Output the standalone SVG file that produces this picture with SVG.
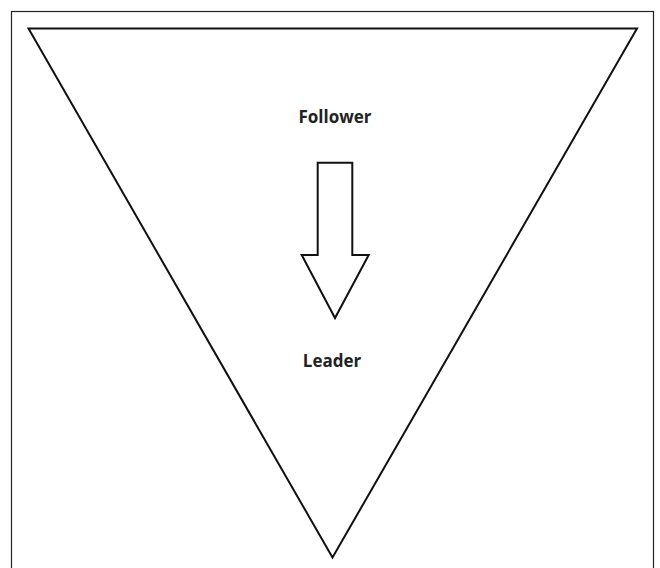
<svg xmlns="http://www.w3.org/2000/svg" width="660" height="568" viewBox="0 0 660 568">
<style>
.lbl{font-family:"Open Sans","Liberation Sans",sans-serif;font-weight:bold;font-size:17px;fill:#222;text-anchor:middle}
.shape{fill:none;stroke:#111;stroke-width:2;stroke-linejoin:miter}
</style>
<rect x="0" y="0" width="660" height="568" fill="#fff"/>
<rect x="11.5" y="11.5" width="642" height="570" fill="none" stroke="#222" stroke-width="1.2"/>
<g id="triangle">
<polygon class="shape" points="28.5,28.5 637,28.5 332.5,557.5"/>
</g>
<g id="follower"><text class="lbl" x="335" y="123">Follower</text></g>
<g id="connectors">
<polygon class="shape" points="317.7,162.7 352.3,162.7 352.3,255 368.7,255 335,318 301.7,255 317.7,255" stroke-width="1.8"/>
</g>
<g id="leader"><text class="lbl" x="332" y="366.5">Leader</text></g>
</svg>
